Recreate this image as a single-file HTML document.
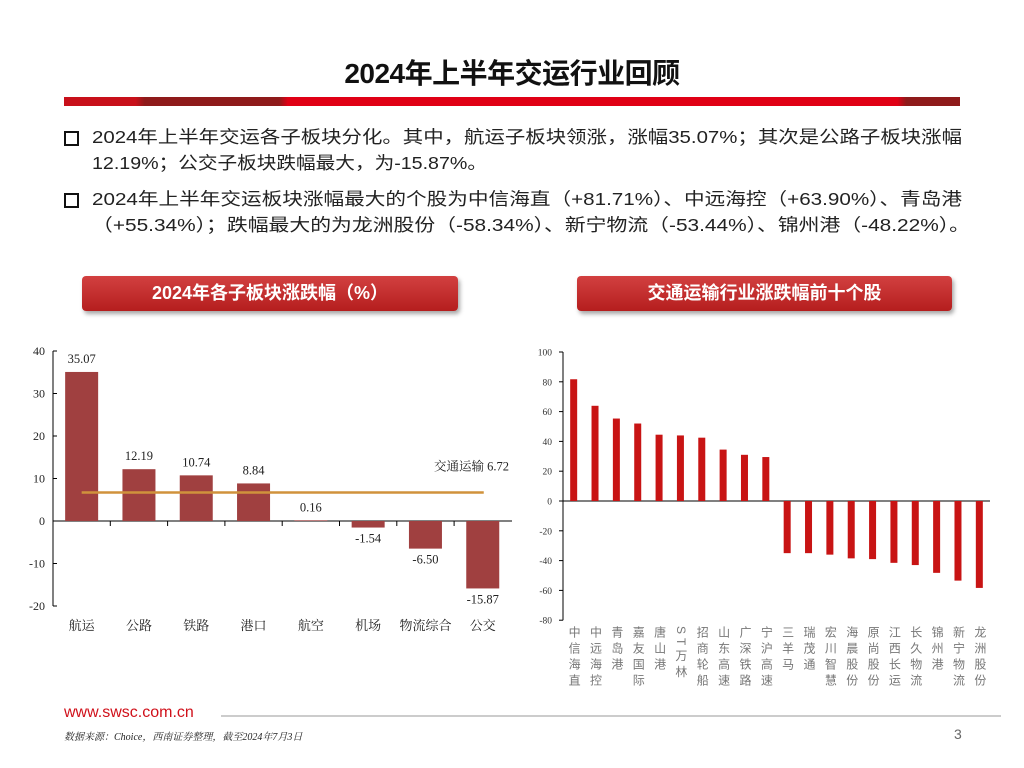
<!DOCTYPE html>
<html><head><meta charset="utf-8">
<style>
body{margin:0;width:1024px;height:768px;background:#fff;position:relative;overflow:hidden;font-family:"Liberation Sans","Noto Sans CJK SC",sans-serif;}
.abs{position:absolute;}
.title{left:0;width:1024px;top:52px;text-align:center;font-size:28px;font-weight:bold;color:#111;letter-spacing:-0.5px;}
.redbar{left:64px;top:97px;width:896px;height:9px;background:linear-gradient(90deg,#c8101a 0%,#c8101a 8%,#8e1a1a 9%,#8e1a1a 24%,#e00015 25%,#e00015 93%,#8e1a1a 94%,#8e1a1a 100%);}
.line{position:absolute;font-size:17.5px;color:#222;white-space:nowrap;transform-origin:0 0;line-height:26px;}
.bullet{left:64px;width:11px;height:11px;border:2px solid #111;}
.banner{top:276px;height:35px;border-radius:4px;background:linear-gradient(#d24040,#b51e1e);box-shadow:2px 3px 4px rgba(0,0,0,0.35);color:#fff;font-weight:bold;font-size:18px;text-align:center;line-height:35px;}
svg text{font-family:"Liberation Serif","Noto Serif CJK SC",serif;}
</style></head><body>
<div class="abs title">2024年上半年交运行业回顾</div>
<div class="abs redbar"></div>
<div class="abs bullet" style="top:131px"></div>
<div>
<span class="line" data-w="870" style="left:92px;top:124px">2024年上半年交运各子板块分化。其中，航运子板块领涨，涨幅35.07%；其次是公路子板块涨幅</span>
<span class="line" data-w="395" style="left:92px;top:150px">12.19%；公交子板块跌幅最大，为-15.87%。</span>
</div>
<div class="abs bullet" style="top:193px"></div>
<div>
<span class="line" data-w="870" style="left:92px;top:186px">2024年上半年交运板块涨幅最大的个股为中信海直（+81.71%）、中远海控（+63.90%）、青岛港</span>
<span class="line" data-w="878" style="left:92px;top:212px">（+55.34%）；跌幅最大的为龙洲股份（-58.34%）、新宁物流（-53.44%）、锦州港（-48.22%）。</span>
</div>
<div class="abs banner" style="left:82px;width:376px">2024年各子板块涨跌幅（%）</div>
<div class="abs banner" style="left:577px;width:375px">交通运输行业涨跌幅前十个股</div>

<svg class="abs" style="left:0;top:0" width="1024" height="768" id="charts"></svg>

<div class="abs" style="left:64px;top:704px;font-size:16px;color:#d0101a">www.swsc.com.cn</div>
<div class="abs" style="left:221px;top:715px;width:780px;height:2px;background:#ccc"></div>
<div class="abs" style="left:64px;top:728px;font-size:10px;font-style:italic;color:#222;font-family:'Liberation Serif','Noto Serif CJK SC',serif">数据来源：Choice，西南证券整理，截至2024年7月3日</div>
<div class="abs" style="left:954px;top:726px;font-size:14px;color:#666">3</div>

<script>
const leftCats=["航运","公路","铁路","港口","航空","机场","物流综合","公交"];
const leftVals=[35.07,12.19,10.74,8.84,0.16,-1.54,-6.50,-15.87];
const leftTicks=[40,30,20,10,0,-10,-20];
const benchName="交通运输";
const benchVal=6.72;
const rightCats=["中信海直","中远海控","青岛港","嘉友国际","唐山港","ST万林","招商轮船","山东高速","广深铁路","宁沪高速","三羊马","瑞茂通","宏川智慧","海晨股份","原尚股份","江西长运","长久物流","锦州港","新宁物流","龙洲股份"];
const rightVals=[81.71,63.90,55.34,52.0,44.5,44.0,42.5,34.5,31.0,29.5,-35.0,-35.0,-36.0,-38.5,-39.0,-41.5,-43.0,-48.22,-53.44,-58.34];
const rightTicks=[100,80,60,40,20,0,-20,-40,-60,-80];

document.querySelectorAll('.line').forEach(s=>{
  const w=s.getBoundingClientRect().width;
  const target=+s.getAttribute('data-w');
  s.style.transform='scaleX('+(target/w)+')';
});

const svg=document.getElementById('charts');
const NS="http://www.w3.org/2000/svg";
function mk(tag,attrs,parent){const e=document.createElementNS(NS,tag);for(const k in attrs)e.setAttribute(k,attrs[k]);(parent||svg).appendChild(e);return e;}

// Left chart
const lg=mk('g',{});


const ly=v=>521-v*4.25;
const lx0=53,lx1=512,lstep=57.3;
const lcx=i=>lx0+lstep*(i+0.5);
mk('line',{x1:lx0,y1:ly(40),x2:lx0,y2:ly(-20),stroke:'#000','stroke-width':1},lg);
mk('line',{x1:lx0,y1:ly(0),x2:lx1,y2:ly(0),stroke:'#000','stroke-width':1},lg);
leftTicks.forEach(t=>{
  mk('line',{x1:lx0,y1:ly(t),x2:lx0+4,y2:ly(t),stroke:'#000'},lg);
  const tx=mk('text',{x:lx0-8,y:ly(t)+4,'text-anchor':'end','font-size':12,fill:'#222'},lg);
  tx.textContent=t;
  
  
});
for(let i=1;i<leftCats.length;i++) mk('line',{x1:lx0+lstep*i,y1:ly(0),x2:lx0+lstep*i,y2:ly(0)+5,stroke:'#000'},lg);
leftVals.forEach((v,i)=>{
  const r=mk('rect',{x:lcx(i)-16.5,y:Math.min(ly(v),ly(0)),width:33,height:Math.abs(ly(v)-ly(0)),fill:'#a04040'},lg);
  
  
  const ty=v>=0?ly(v)-9:ly(v)+15;
  const lb=mk('text',{x:lcx(i),y:ty,'text-anchor':'middle','font-size':12.5,fill:'#222'},lg);
  lb.textContent=v.toFixed(2);
  
  
  const cl=mk('text',{x:lcx(i),y:630,'text-anchor':'middle','font-size':13,fill:'#222'},lg);
  cl.textContent=leftCats[i];
  
  
});
const bl=mk('line',{x1:lcx(0),y1:ly(benchVal),x2:lcx(leftCats.length-1)+1,y2:ly(benchVal),stroke:'#d0923c','stroke-width':2.5},lg);


const bt=mk('text',{x:509,y:ly(benchVal)-22,'text-anchor':'end','font-size':12.5,fill:'#222'},lg);
bt.textContent=benchName+'  '+benchVal.toFixed(2);



// Right chart
const rg=mk('g',{});


const ry=v=>501-v*1.49;
const rx0=563,rx1=990,rstep=21.35;
const rcx=i=>rx0+rstep*(i+0.5);
mk('line',{x1:rx0,y1:ry(100),x2:rx0,y2:ry(-80),stroke:'#000'},rg);
mk('line',{x1:rx0,y1:ry(0),x2:rx1,y2:ry(0),stroke:'#000'},rg);
rightTicks.forEach(t=>{
  mk('line',{x1:rx0-4,y1:ry(t),x2:rx0,y2:ry(t),stroke:'#000'},rg);
  const tx=mk('text',{x:rx0-11,y:ry(t)+3.5,'text-anchor':'end','font-size':9.5,fill:'#333','font-family':'Liberation Sans, sans-serif'},rg);
  tx.textContent=t;
  
  
});
rightVals.forEach((v,i)=>{
  const r=mk('rect',{x:rcx(i)-3.5,y:Math.min(ry(v),ry(0)),width:7,height:Math.abs(ry(v)-ry(0)),fill:'#c81414'},rg);
  
  
});
rightCats.forEach((c,i)=>{
  const d=document.createElement('div');
  d.textContent=c;
  
  
  d.style.cssText='position:absolute;writing-mode:vertical-rl;font-size:12px;line-height:13px;letter-spacing:4px;color:#777;top:626px;left:'+(rcx(i)-6.5)+'px;font-family:"Liberation Sans","Noto Sans CJK SC",sans-serif;';
  document.body.appendChild(d);
});
</script>
</body></html>
